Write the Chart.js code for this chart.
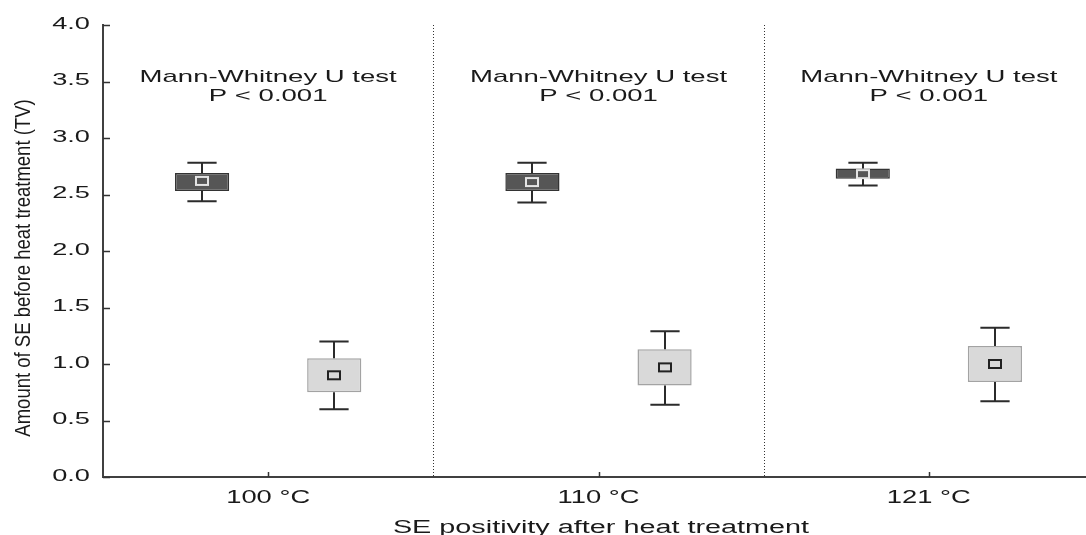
<!DOCTYPE html>
<html>
<head>
<meta charset="utf-8">
<script src="https://cdn.jsdelivr.net/npm/chart.js@4.4.1/dist/chart.umd.min.js"></script>
<style>
    html, body { margin: 0; padding: 0; background: #fff; overflow: hidden; }
    #wrap { width: 1096px; height: 535px; position: relative; }
</style>
</head>
<body>
<div id="wrap"><canvas id="boxChart"></canvas></div>
<script>
// Heat treatment temperatures
const categories = ['100 °C', '110 °C', '121 °C'];

// SE positive after heat treatment (dark boxes)
const posMin    = [2.44, 2.43, 2.58];
const posQ1     = [2.53, 2.53, 2.64];
const posMedian = [2.62, 2.61, 2.68];
const posQ3     = [2.69, 2.69, 2.73];
const posMax    = [2.78, 2.78, 2.78];

// SE negative after heat treatment (light boxes)
const negMin    = [0.60, 0.64, 0.67];
const negQ1     = [0.75, 0.81, 0.84];
const negMedian = [0.90, 0.97, 1.00];
const negQ3     = [1.05, 1.13, 1.16];
const negMax    = [1.20, 1.29, 1.32];

const testLabel = ['Mann-Whitney U test', 'P < 0.001'];
const yTitle = 'Amount of SE before heat treatment (TV)';
const xTitle = 'SE positivity after heat treatment';

const FONT = "'Liberation Sans', Arial, sans-serif";
const TEXT_COLOR = '#1a1a1a';

const whiskerSets = [
    { min: posMin, max: posMax, q1: posQ1, q3: posQ3, mid: posMedian, markFill: '#565656', markStroke: '#e4e4e4' },
    { min: negMin, max: negMax, q1: negQ1, q3: negQ3, mid: negMedian, markFill: '#d9d9d9', markStroke: '#222' }
];

// text squeezed or widened horizontally
function drawText(ctx, text, x, y, size, sx, align, baseline) {
    ctx.save();
    ctx.translate(x, y);
    ctx.scale(sx, 1);
    ctx.font = size + 'px ' + FONT;
    ctx.fillStyle = TEXT_COLOR;
    ctx.textAlign = align;
    ctx.textBaseline = baseline;
    ctx.fillText(text, 0, 0);
    ctx.restore();
}

const boxExtras = {
    id: 'boxExtras',
    beforeDatasetsDraw(chart) {
        const { ctx, chartArea, scales: { x } } = chart;
        // dotted separators between temperature groups
        ctx.save();
        ctx.strokeStyle = '#333';
        ctx.lineWidth = 1;
        ctx.setLineDash([1, 2]);
        for (let i = 0; i < categories.length - 1; i++) {
            const px = Math.round((x.getPixelForValue(i) + x.getPixelForValue(i + 1)) / 2) + 0.5;
            ctx.beginPath();
            ctx.moveTo(px, chartArea.top);
            ctx.lineTo(px, chartArea.bottom);
            ctx.stroke();
        }
        ctx.restore();
    },
    afterDatasetsDraw(chart) {
        const { ctx, chartArea, scales: { x, y } } = chart;
        ctx.save();

        // whiskers and median markers
        whiskerSets.forEach((set, di) => {
            const meta = chart.getDatasetMeta(di);
            meta.data.forEach((bar, i) => {
                const cx = Math.round(bar.x);
                const cap = bar.width * 0.27;
                const yMax = y.getPixelForValue(set.max[i]);
                const yMin = y.getPixelForValue(set.min[i]);
                const yQ3 = y.getPixelForValue(set.q3[i]);
                const yQ1 = y.getPixelForValue(set.q1[i]);
                ctx.strokeStyle = '#2b2b2b';
                ctx.lineWidth = 2;
                ctx.beginPath();
                ctx.moveTo(cx, yQ3); ctx.lineTo(cx, yMax);
                ctx.moveTo(cx - cap, yMax); ctx.lineTo(cx + cap, yMax);
                ctx.moveTo(cx, yQ1); ctx.lineTo(cx, yMin);
                ctx.moveTo(cx - cap, yMin); ctx.lineTo(cx + cap, yMin);
                ctx.stroke();

                const ym = y.getPixelForValue(set.mid[i]);
                ctx.fillStyle = set.markFill;
                ctx.strokeStyle = set.markStroke;
                ctx.lineWidth = 2;
                ctx.fillRect(cx - 6, ym - 4, 12, 8);
                ctx.strokeRect(cx - 6, ym - 4, 12, 8);
            });
        });

        // inward tick marks
        ctx.strokeStyle = '#333';
        ctx.lineWidth = 1.5;
        ctx.beginPath();
        y.ticks.forEach((t, i) => {
            const py = Math.round(y.getPixelForTick(i)) + 0.5;
            ctx.moveTo(chartArea.left, py);
            ctx.lineTo(chartArea.left + 7, py);
        });
        categories.forEach((c, i) => {
            const px = Math.round(x.getPixelForValue(i)) + 0.5;
            ctx.moveTo(px, chartArea.bottom);
            ctx.lineTo(px, chartArea.bottom - 5);
        });
        ctx.stroke();

        // tick labels
        y.ticks.forEach((t, i) => {
            drawText(ctx, t.value.toFixed(1), chartArea.left - 13, y.getPixelForTick(i) - 1, 17, 1.6, 'right', 'middle');
        });
        categories.forEach((c, i) => {
            drawText(ctx, c, x.getPixelForValue(i), chartArea.bottom + 26, 18, 1.52, 'center', 'alphabetic');
            // test result above each pair of boxes
            drawText(ctx, testLabel[0], x.getPixelForValue(i), y.getPixelForValue(3.5), 17, 1.62, 'center', 'alphabetic');
            drawText(ctx, testLabel[1], x.getPixelForValue(i), y.getPixelForValue(3.33), 17, 1.62, 'center', 'alphabetic');
        });

        // axis titles
        drawText(ctx, xTitle, 601, chartArea.bottom + 56, 18, 1.6, 'center', 'alphabetic');
        ctx.save();
        ctx.translate(24, 268);
        ctx.rotate(-Math.PI / 2);
        ctx.scale(1, 1.15);
        ctx.font = '18.5px ' + FONT;
        ctx.fillStyle = TEXT_COLOR;
        ctx.textAlign = 'center';
        ctx.textBaseline = 'middle';
        ctx.fillText(yTitle, 0, 0);
        ctx.restore();

        ctx.restore();
    }
};

const toRange = (lo, hi) => lo.map((v, i) => [v, hi[i]]);

new Chart(document.getElementById('boxChart').getContext('2d'), {
    type: 'bar',
    data: {
        labels: categories,
        datasets: [{
            label: 'Positive',
            data: toRange(posQ1, posQ3),
            backgroundColor: '#565656',
            borderColor: '#333',
            borderWidth: 1.5,
            borderSkipped: false
        }, {
            label: 'Negative',
            data: toRange(negQ1, negQ3),
            backgroundColor: '#d9d9d9',
            borderColor: '#a3a3a3',
            borderWidth: 1.5,
            borderSkipped: false
        }]
    },
    options: {
        responsive: true,
        maintainAspectRatio: false,
        animation: false,
        categoryPercentage: 0.8,
        barPercentage: 0.41,
        layout: { padding: { left: 103, top: 25, right: 2, bottom: 58 } },
        plugins: {
            legend: { display: false },
            tooltip: { enabled: false }
        },
        scales: {
            x: {
                offset: true,
                grid: { display: false, drawTicks: false, tickLength: 0 },
                ticks: { display: false, padding: 0 },
                border: { display: true, color: '#404040', width: 2 }
            },
            y: {
                min: 0,
                max: 4,
                ticks: { display: false, stepSize: 0.5, padding: 0 },
                grid: { display: false, drawTicks: false, tickLength: 0 },
                border: { display: true, color: '#404040', width: 2 }
            }
        }
    },
    plugins: [boxExtras]
});
</script>
</body>
</html>
